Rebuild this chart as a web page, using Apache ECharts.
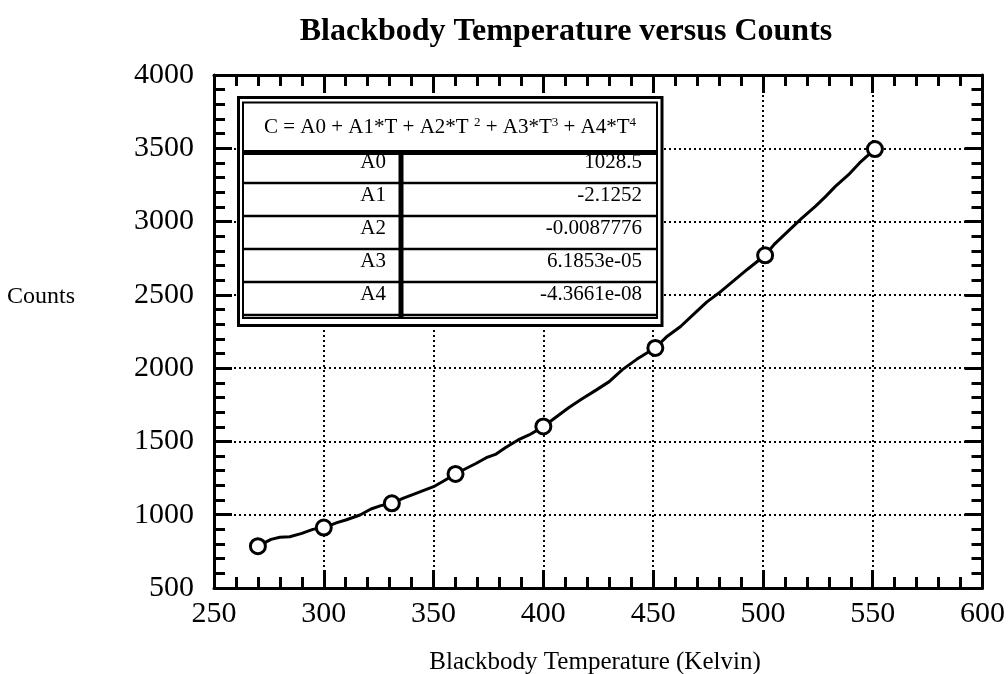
<!DOCTYPE html>
<html><head><meta charset="utf-8">
<script src="https://cdn.jsdelivr.net/npm/echarts@6/dist/echarts.min.js"></script>
<style>html,body{margin:0;padding:0;background:#fff}#c{width:1008px;height:674px}</style>
</head><body><div id="c"></div>
<script>
const titleText = 'Blackbody Temperature versus Counts';
const xAxisName = 'Blackbody Temperature (Kelvin)';
const yAxisName = 'Counts';
const xTicks = [250, 300, 350, 400, 450, 500, 550, 600];
const yTicks = [500, 1000, 1500, 2000, 2500, 3000, 3500, 4000];
// measured points
const tempK = [270, 300, 331, 360, 400, 451, 501, 551];
const counts = [785, 912, 1078, 1278, 1602, 2138, 2770, 3495];
// fitted curve
const fitT = [270, 276, 280, 284.5, 290, 295, 300.5, 306, 310, 316.5, 321.5, 326, 331, 336, 342, 350, 354, 360, 365, 369.5, 374, 378.5, 383, 388.5, 393.5, 400, 404, 411.5, 417.5, 424, 430, 436, 442.5, 451, 456, 462.5, 468.5, 474.5, 481, 487, 493, 501, 505.5, 511.5, 517.5, 524, 528.5, 533, 539, 544, 551];
const fitC = [786, 832, 846, 850, 873, 900, 914, 946, 964, 998, 1039, 1062, 1078, 1112, 1146, 1191, 1225, 1278, 1317, 1351, 1389, 1414, 1460, 1510, 1544, 1601, 1646, 1730, 1790, 1850, 1908, 1990, 2060, 2139, 2212, 2284, 2368, 2452, 2525, 2600, 2675, 2770, 2850, 2935, 3020, 3105, 3170, 3240, 3320, 3400, 3495];
// fit coefficient table
const coefNames = ['A0', 'A1', 'A2', 'A3', 'A4'];
const coefValues = ['1028.5', '-2.1252', '-0.0087776', '6.1853e-05', '-4.3661e-08'];
const eqParts = ['C = A0 + A1*T + A2*T ', '2', ' + A3*T', '3', ' + A4*T', '4'];

const serif = '"Liberation Serif", "Times New Roman", serif';
const chart = echarts.init(document.getElementById('c'), null, {renderer: 'canvas'});

function axisBase(ticks, pos, main) {
  return {
    type: 'value', position: pos,
    min: ticks[0], max: ticks[ticks.length - 1], interval: ticks[1] - ticks[0],
    axisLine: {show: true, onZero: false, lineStyle: {color: '#000', width: 3}},
    axisTick: {show: true, inside: true, length: 18, lineStyle: {color: '#000', width: 3}},
    minorTick: {show: true, splitNumber: 5, length: 11, lineStyle: {color: '#000', width: 3}},
    axisLabel: {show: main, fontFamily: serif, fontSize: 30, color: '#000', showMinLabel: true, showMaxLabel: true, hideOverlap: false,
      formatter: (v) => String(v)},
    splitLine: {show: main, lineStyle: {color: '#000', width: 2, type: [2, 3]}},
    minorSplitLine: {show: false}
  };
}
const xMain = axisBase(xTicks, 'bottom', true);
xMain.axisLabel.margin = 11;
const yMain = axisBase(yTicks, 'left', true);
yMain.axisLabel.margin = 20;

const elements = [];
elements.push({type: 'text', x: 566, y: 32, z: 100, style: {text: titleText, fontFamily: serif, fontSize: 32, fontWeight: 'bold', fill: '#000', align: 'center', verticalAlign: 'middle'}});
elements.push({type: 'text', x: 7, y: 297, z: 100, style: {text: yAxisName, fontFamily: serif, fontSize: 24, fill: '#000', align: 'left', verticalAlign: 'middle'}});
elements.push({type: 'text', x: 595, y: 662, z: 100, style: {text: xAxisName, fontFamily: serif, fontSize: 25, fill: '#000', align: 'center', verticalAlign: 'middle'}});

// table
const tL = 243, tR = 657, tT = 102.5, tB = 318, rowTop = 150, rowH = 33, colX = 401;
elements.push({type: 'rect', z: 100, shape: {x: 236, y: 95, width: 428, height: 232}, style: {fill: '#fff'}});
elements.push({type: 'rect', z: 101, shape: {x: 238.5, y: 97.5, width: 423.5, height: 228}, style: {fill: 'none', stroke: '#000', lineWidth: 3}});
elements.push({type: 'rect', z: 101, shape: {x: tL, y: tT, width: tR - tL, height: tB - tT}, style: {fill: 'none', stroke: '#000', lineWidth: 2}});
elements.push({type: 'line', z: 102, shape: {x1: tL, y1: 152.5, x2: tR, y2: 152.5}, style: {stroke: '#000', lineWidth: 5}});
let rich = '';
eqParts.forEach((p, i) => { rich += (i % 2 === 0 ? '{n|' : '{s|') + p + '}'; });
elements.push({type: 'text', x: 450, y: 127, z: 103, style: {text: rich, align: 'center', verticalAlign: 'middle',
  rich: {n: {fontFamily: serif, fontSize: 21, fill: '#000', verticalAlign: 'bottom'},
         s: {fontFamily: serif, fontSize: 13, fill: '#000', verticalAlign: 'bottom', padding: [0, 0, 8, 0]}}}});
coefNames.forEach((nm, i) => {
  const yb = rowTop + (i + 1) * rowH;
  elements.push({type: 'line', z: 102, shape: {x1: tL, y1: yb, x2: tR, y2: yb}, style: {stroke: '#000', lineWidth: 2.5}});
  const yc = rowTop + i * rowH + 12.5;
  elements.push({type: 'text', x: 386, y: yc, z: 103, style: {text: nm, fontFamily: serif, fontSize: 21, fill: '#000', align: 'right', verticalAlign: 'middle'}});
  elements.push({type: 'text', x: 642, y: yc, z: 103, style: {text: coefValues[i], fontFamily: serif, fontSize: 21, fill: '#000', align: 'right', verticalAlign: 'middle'}});
});
elements.push({type: 'line', z: 104, shape: {x1: colX, y1: 152, x2: colX, y2: tB}, style: {stroke: '#000', lineWidth: 5}});

chart.setOption({
  animation: false,
  backgroundColor: '#fff',
  grid: {left: 214, right: 24, top: 75, bottom: 86, containLabel: false},
  xAxis: [xMain, axisBase(xTicks, 'top', false)],
  yAxis: [yMain, axisBase(yTicks, 'right', false)],
  series: [
    {type: 'line', xAxisIndex: 0, yAxisIndex: 0, data: fitT.map((t, i) => [t, fitC[i]]), showSymbol: false, symbol: 'none',
     lineStyle: {color: '#000', width: 3}, z: 3},
    {type: 'scatter', xAxisIndex: 0, yAxisIndex: 0, data: tempK.map((t, i) => [t, counts[i]]), symbol: 'circle', symbolSize: 15,
     itemStyle: {color: '#fff', borderColor: '#000', borderWidth: 3, opacity: 1}, z: 4}
  ],
  graphic: {elements: elements}
});
</script></body></html>
